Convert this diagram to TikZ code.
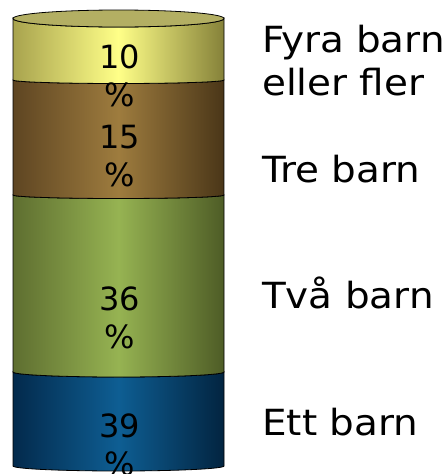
\documentclass[tikz,border=0pt]{standalone}
\usepackage{fontspec}
\setmainfont{DejaVu Sans}
\newfontfamily\keyfont[FakeStretch=1.08]{DejaVu Sans}
\usetikzlibrary{positioning}
\definecolor{yellowL}{HTML}{A8A34E}
\definecolor{yellowM}{HTML}{FFFF88}
\definecolor{yellowR}{HTML}{858139}
\definecolor{yellowTop}{HTML}{B3AF63}
\definecolor{brownL}{HTML}{5E4522}
\definecolor{brownM}{HTML}{9E7C3E}
\definecolor{brownR}{HTML}{4A3618}
\definecolor{greenL}{HTML}{5E6E30}
\definecolor{greenM}{HTML}{96B352}
\definecolor{greenR}{HTML}{4E5C26}
\definecolor{blueL}{HTML}{032A4C}
\definecolor{blueM}{HTML}{0E5E93}
\definecolor{blueR}{HTML}{022440}
\tikzset{pct node/.style={inner sep=0pt,align=center,anchor=base,
		font=\fontsize{32}{38}\selectfont},
	key node/.style={inner sep=0pt,align=left,anchor=base west,
		font=\keyfont\fontsize{36}{43}\selectfont},
	band/.style={draw=black,line width=0.8pt},
}

\begin{document}
\begin{tikzpicture}[x=1pt,y=1pt]
	\useasboundingbox (0,0) rectangle (445,-474);
	
	%% bands, bottom first
	\path[band,left color=blueL,right color=blueR,middle color=blueM]
	(13,-372) arc[start angle=180,end angle=360,x radius=105.5,y radius=5]
	-- (224,-466) arc[start angle=0,end angle=-180,x radius=105.5,y radius=5]
	-- cycle;
	\path[band,left color=greenL,right color=greenR,middle color=greenM]
	(13,-195) arc[start angle=180,end angle=360,x radius=105.5,y radius=3.5]
	-- (224,-372) arc[start angle=0,end angle=-180,x radius=105.5,y radius=5]
	-- cycle;
	\path[band,left color=brownL,right color=brownR,middle color=brownM]
	(13,-80) arc[start angle=180,end angle=360,x radius=105.5,y radius=3.5]
	-- (224,-195) arc[start angle=0,end angle=-180,x radius=105.5,y radius=3.5]
	-- cycle;
	\path[band,left color=yellowL,right color=yellowR,middle color=yellowM]
	(13,-18.5) arc[start angle=180,end angle=360,x radius=105.5,y radius=8.5]
	-- (224,-80) arc[start angle=0,end angle=-180,x radius=105.5,y radius=3.5]
	-- cycle;
	\draw[line width=0.8pt,fill=yellowTop] (118.5,-18.5) ellipse[x radius=105.5,y radius=8.5];
	
	%% percentages (base = last line)
	\node[pct node] (p4) at (120,-106) {10\\\%};
	\node[pct node] (p3) at (120,-186) {15\\\%};
	\node[pct node] (p2) at (120,-348) {36\\\%};
	\node[pct node] (p1) at (120,-475) {39\\\%};
	
	%% legend
	\node[key node] (k4) at (262,-95) {Fyra barn\\eller fler};
	\node[key node] (k3) at (262,-182) {Tre barn};
	\node[key node] (k2) at (262,-308) {Två barn};
	\node[key node] (k1) at (262,-435) {Ett barn};
\end{tikzpicture}
\end{document}
